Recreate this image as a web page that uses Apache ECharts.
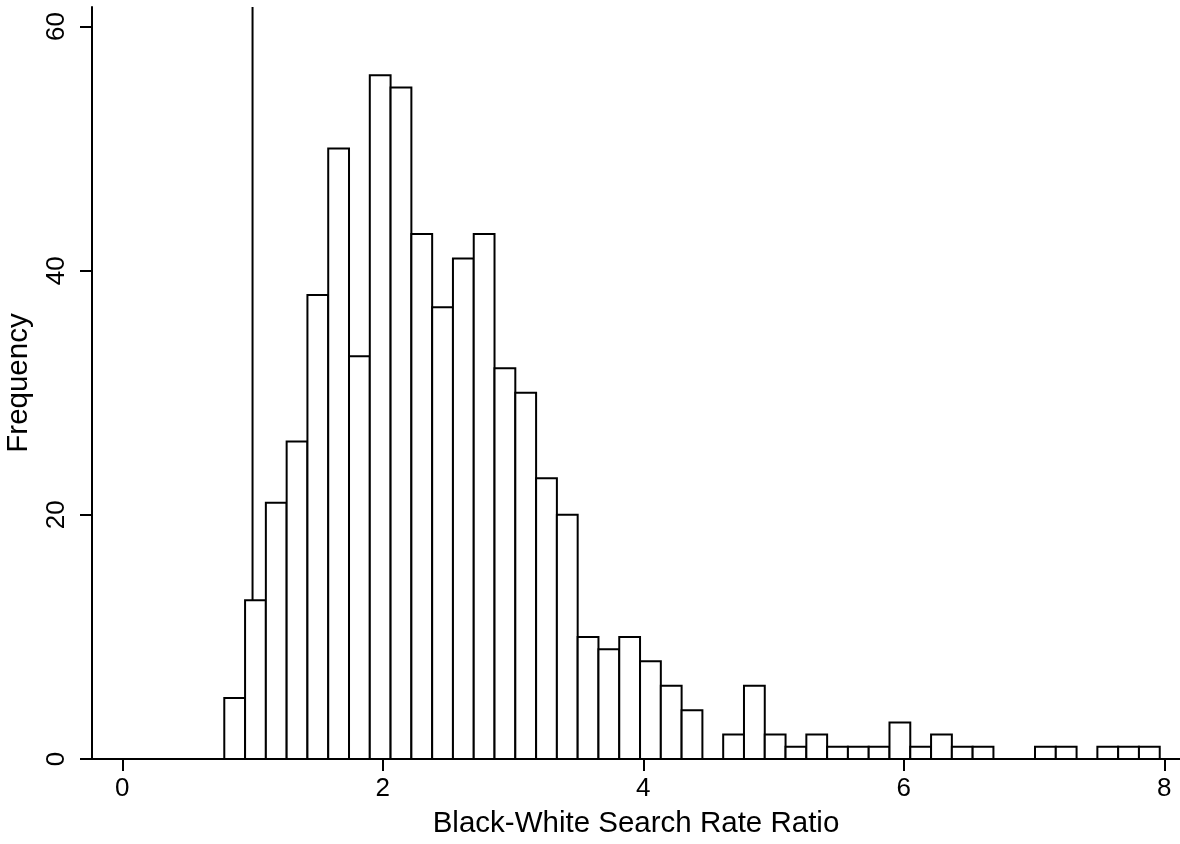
<!DOCTYPE html>
<html>
<head>
<meta charset="utf-8">
<script src="https://cdn.jsdelivr.net/npm/echarts@6/dist/echarts.min.js"></script>
<style>
html,body{margin:0;padding:0;background:#fff;}
#chart{width:1180px;height:844px;}
</style>
</head>
<body>
<div id="chart"></div>
<script>
// Histogram of Black-White search rate ratio
const binStart = 0.783;      // left edge of first bin
const binWidth = 0.1596;     // bin width
const counts = [5, 13, 21, 26, 38, 50, 33, 56, 55, 43, 37, 41, 43, 32, 30, 23, 20, 10, 9, 10, 8, 6, 4, 0,
                2, 6, 2, 1, 2, 1, 1, 1, 3, 1, 2, 1, 1, 0, 0, 1, 1, 0, 1, 1, 1];
const xTicks = [0, 2, 4, 6, 8];
const yTicks = [0, 20, 40, 60];
const refLineX = 1;
const xTitle = 'Black-White Search Rate Ratio';
const yTitle = 'Frequency';

const FONT = '"Liberation Sans", Arial, Helvetica, sans-serif';

const barData = counts.map((c, i) => [binStart + i * binWidth, binStart + (i + 1) * binWidth, c]).filter(d => d[2] > 0);

const chart = echarts.init(document.getElementById('chart'));
chart.setOption({
  animation: false,
  backgroundColor: '#fff',
  grid: {left: 92, right: 0, top: 7, bottom: 85, containLabel: false, outerBoundsMode: 'none'},
  xAxis: {
    type: 'value',
    min: -0.2326, max: 8.1206,
    name: xTitle, nameLocation: 'middle', nameGap: 50,
    nameTextStyle: {fontFamily: FONT, fontSize: 29.5, color: '#000'},
    axisLine: {show: true, onZero: false, lineStyle: {color: '#000', width: 2}},
    axisTick: {show: true, length: 12, customValues: xTicks, lineStyle: {color: '#000', width: 2}},
    axisLabel: {customValues: xTicks, fontFamily: FONT, fontSize: 26, color: '#000', margin: 17},
    splitLine: {show: false}
  },
  yAxis: {
    type: 'value',
    min: 0, max: 61.6,
    name: yTitle, nameLocation: 'middle', nameGap: 58, nameRotate: 90,
    nameTextStyle: {fontFamily: FONT, fontSize: 29.5, color: '#000'},
    axisLine: {show: true, onZero: false, lineStyle: {color: '#000', width: 2}},
    axisTick: {show: true, length: 12, customValues: yTicks, lineStyle: {color: '#000', width: 2}},
    axisLabel: {customValues: yTicks, rotate: 90, fontFamily: FONT, fontSize: 26, color: '#000', margin: 22},
    splitLine: {show: false}
  },
  series: [
    {
      type: 'line', z: 1, symbol: 'none', silent: true,
      data: [[refLineX, 0], [refLineX, 61.6]],
      lineStyle: {color: '#000', width: 2}
    },
    {
      type: 'custom', z: 2, silent: true,
      data: barData,
      encode: {x: [0, 1], y: 2},
      renderItem: function (params, api) {
        const p0 = api.coord([api.value(0), api.value(2)]);
        const p1 = api.coord([api.value(1), 0]);
        return {
          type: 'rect',
          shape: {x: p0[0], y: p0[1], width: p1[0] - p0[0], height: p1[1] - p0[1]},
          style: {fill: '#fff', stroke: '#000', lineWidth: 2}
        };
      }
    }
  ]
});
</script>
</body>
</html>
